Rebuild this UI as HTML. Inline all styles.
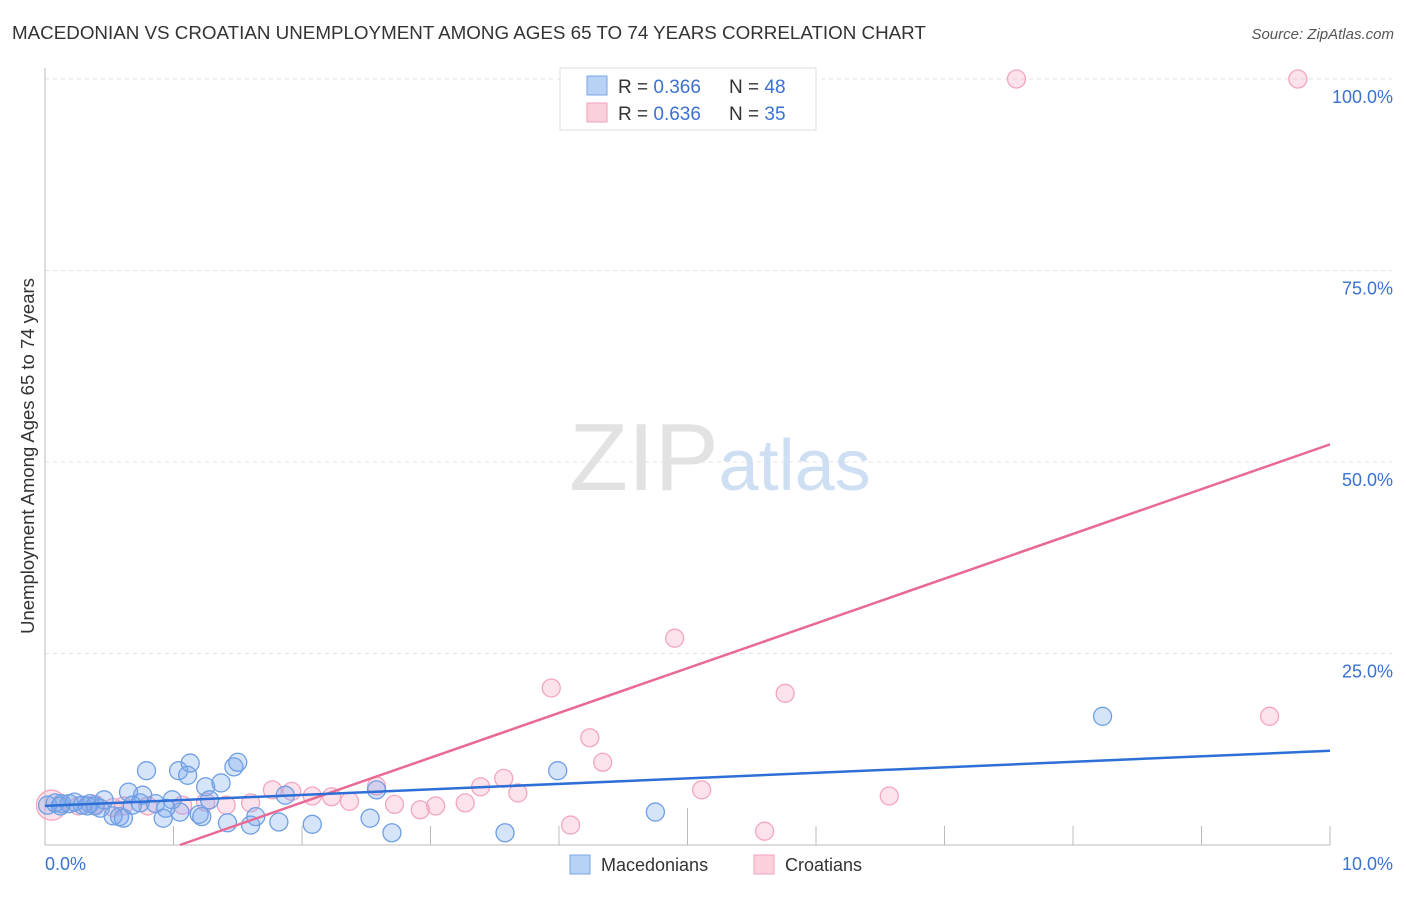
<!DOCTYPE html>
<html><head><meta charset="utf-8"><style>
body{margin:0;background:#fff;font-family:"Liberation Sans",sans-serif}
svg text{font-family:"Liberation Sans",sans-serif}
</style></head><body>
<svg width="1406" height="892" id="chart">
<text x="12" y="39" font-size="18.8" fill="#333">MACEDONIAN VS CROATIAN UNEMPLOYMENT AMONG AGES 65 TO 74 YEARS CORRELATION CHART</text>
<text x="1394" y="39" font-size="15" fill="#555" text-anchor="end" font-style="italic">Source: ZipAtlas.com</text>
<text x="34" y="456" font-size="18.5" fill="#333" text-anchor="middle" transform="rotate(-90 34 456)">Unemployment Among Ages 65 to 74 years</text>
<g id="grid"></g>
<text x="720" y="490" font-size="96" fill="#ddd" text-anchor="middle" font-family="Liberation Serif"><tspan fill="#e2e2e2">ZIP</tspan><tspan fill="#cfdff3" font-family="Liberation Sans" font-size="72">atlas</tspan></text>
<g id="pts"></g>
<g id="lines"></g>
<g>
<rect x="560" y="68" width="256" height="62" fill="#fff" stroke="#ddd"/>
<rect x="587" y="76" width="20" height="19" fill="#b8d2f5" stroke="#7aa6e6"/>
<text x="618" y="93" font-size="19" fill="#333">R = <tspan fill="#3a72d0">0.366</tspan></text>
<text x="729" y="93" font-size="19" fill="#333">N = <tspan fill="#3a72d0">48</tspan></text>
<rect x="587" y="103" width="20" height="19" fill="#fbd0dd" stroke="#f0a0b8"/>
<text x="618" y="120" font-size="19" fill="#333">R = <tspan fill="#3a72d0">0.636</tspan></text>
<text x="729" y="120" font-size="19" fill="#333">N = <tspan fill="#3a72d0">35</tspan></text>
</g>
<g>
<rect x="570" y="855" width="20" height="19" fill="#b8d2f5" stroke="#7aa6e6"/>
<text x="601" y="871" font-size="18" fill="#333">Macedonians</text>
<rect x="754" y="855" width="20" height="19" fill="#fbd0dd" stroke="#f0a0b8"/>
<text x="785" y="871" font-size="18" fill="#333">Croatians</text>
</g>
</svg>
<script>
const xTicks=[0,10];
const yTicks=[25,50,75,100];
const macX=[0.02,0.08,0.13,0.19,0.23,0.29,0.35,0.39,0.43,0.46,0.53,0.58,0.61,0.65,0.74,0.76,0.79,0.86,0.92,0.99,1.04,1.05,1.11,1.13,1.2,1.22,1.25,1.28,1.37,1.42,1.47,1.5,1.6,1.64,1.82,1.87,2.08,2.53,2.58,2.7,3.58,3.99,4.75,8.23,0.12,0.33,0.68,0.94];
const macY=[5.2,5.5,5.4,5.4,5.6,5.2,5.4,5.1,4.8,5.9,3.8,3.7,3.5,6.9,5.5,6.5,9.7,5.4,3.5,5.9,9.7,4.3,9.1,10.7,4.0,3.7,7.6,5.9,8.1,2.9,10.2,10.8,2.6,3.7,3.0,6.5,2.7,3.5,7.2,1.6,1.6,9.7,4.3,16.8,5.1,5.1,5.2,4.8];
const croX=[0.05,0.26,0.39,0.53,0.61,0.8,1.07,1.25,1.41,1.6,1.77,1.92,2.08,2.23,2.37,2.58,2.72,2.92,3.04,3.27,3.39,3.57,3.68,3.94,4.09,4.24,4.34,4.9,5.11,5.6,5.76,6.57,7.56,9.53,9.75];
const croY=[5.2,5.1,5.3,4.9,5.1,5.1,5.2,5.6,5.2,5.5,7.2,7.0,6.4,6.3,5.7,7.7,5.3,4.6,5.1,5.5,7.6,8.7,6.8,20.5,2.6,14.0,10.8,27.0,7.2,1.8,19.8,6.4,100,16.8,100];
const macTrend=[0,5.1,10,12.3];
const croTrend=[1.05,0,10,52.3];
const X=v=>45+v*128.5, Y=v=>845-v*7.66;
const ns="http://www.w3.org/2000/svg";
function mk(t,a,p){const e=document.createElementNS(ns,t);for(const k in a)e.setAttribute(k,a[k]);p.appendChild(e);return e;}
const g=document.getElementById('grid');
yTicks.forEach(v=>{
 const l=mk('line',{x1:45,x2:1392,y1:Y(v),y2:Y(v),stroke:'#e3e3e3','stroke-dasharray':'4 4'},g);
 
 
 const t=mk('text',{x:1393,y:Y(v)+24,'font-size':18,fill:'#3a72d0','text-anchor':'end'},g);t.textContent=v.toFixed(1)+'%';
 
 
});
mk('line',{x1:45,x2:45,y1:68,y2:845,stroke:'#bbb'},g);
mk('line',{x1:45,x2:1330,y1:845,y2:845,stroke:'#bbb'},g);
for(let i=1;i<=10;i++){mk('line',{x1:X(i),x2:X(i),y1:i==5?808:826,y2:845,stroke:'#bbb'},g);}
xTicks.forEach((v,i)=>{const t=mk('text',{x:i==0?45:1393,y:870,'font-size':18,fill:'#3a72d0','text-anchor':i==0?'start':'end'},g);t.textContent=v.toFixed(1)+'%';
 
 });
const p=document.getElementById('pts');
croX.forEach((x,i)=>{const c=mk('circle',{cx:X(x),cy:Y(croY[i]),r:i==0?15:9,fill:'rgba(245,160,190,0.3)',stroke:'#f2a6bf','stroke-width':1.3},p);
 
 });
macX.forEach((x,i)=>{const c=mk('circle',{cx:X(x),cy:Y(macY[i]),r:9,fill:'rgba(120,165,235,0.3)',stroke:'#6f9fe3','stroke-width':1.3},p);
 
 });
const L=document.getElementById('lines');
const a=mk('line',{x1:X(croTrend[0]),y1:Y(croTrend[1]),x2:X(croTrend[2]),y2:Y(croTrend[3]),stroke:'#e86a93','stroke-width':2.5},L);


const b=mk('line',{x1:X(macTrend[0]),y1:Y(macTrend[1]),x2:X(macTrend[2]),y2:Y(macTrend[3]),stroke:'#2d6fd6','stroke-width':2.5},L);


</script>
</body></html>
